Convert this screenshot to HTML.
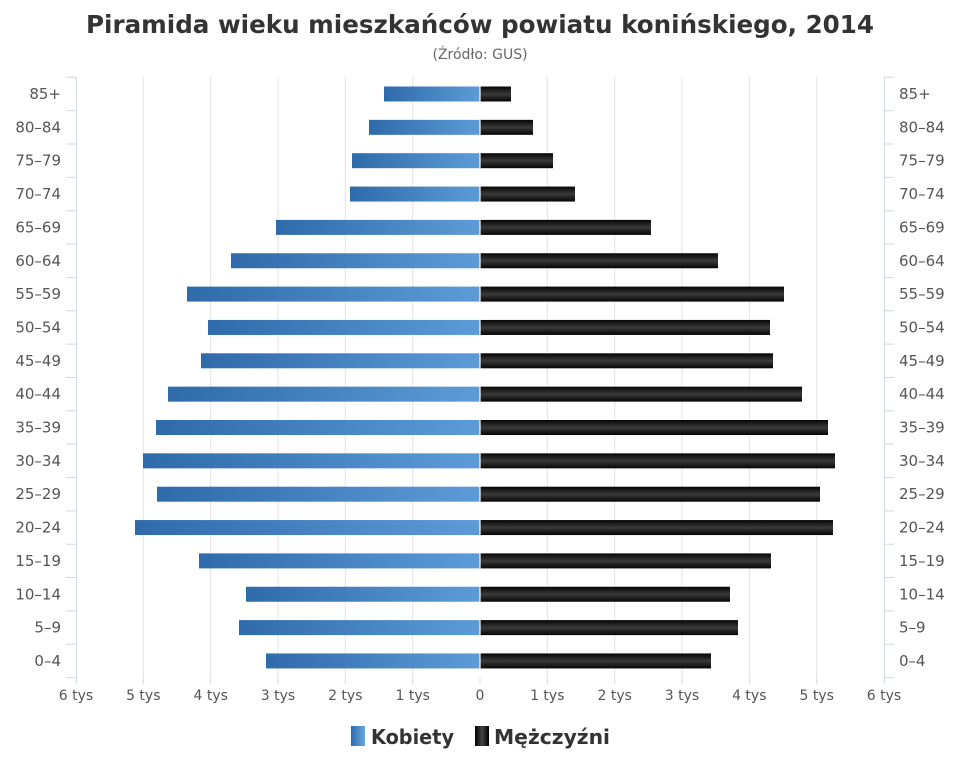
<!DOCTYPE html>
<html><head><meta charset="utf-8"><style>
html,body{margin:0;padding:0;background:#fff;}
svg{display:block;font-family:"DejaVu Sans","Liberation Sans",sans-serif;}
</style></head><body>
<svg width="960" height="768" viewBox="0 0 960 768" xmlns="http://www.w3.org/2000/svg">
<defs>
<linearGradient id="gb" x1="0" y1="0" x2="1" y2="0"><stop offset="0" stop-color="#2f6aaa"/><stop offset="1" stop-color="#5d9bd8"/></linearGradient>
<linearGradient id="gk" x1="0" y1="0" x2="0" y2="1"><stop offset="0" stop-color="#050505"/><stop offset="0.5" stop-color="#3a3a3a"/><stop offset="1" stop-color="#050505"/></linearGradient>
<linearGradient id="lb" x1="0" y1="0" x2="1" y2="0"><stop offset="0" stop-color="#2f6aaa"/><stop offset="1" stop-color="#6aa6e0"/></linearGradient>
<linearGradient id="lk" x1="0" y1="0" x2="1" y2="0"><stop offset="0" stop-color="#000"/><stop offset="0.5" stop-color="#444"/><stop offset="1" stop-color="#000"/></linearGradient>
</defs>
<text x="480" y="33" text-anchor="middle" font-size="25" font-weight="bold" fill="#333" textLength="788" lengthAdjust="spacingAndGlyphs">Piramida wieku mieszkańców powiatu konińskiego, 2014</text>
<text x="480" y="59" text-anchor="middle" font-size="14" fill="#666">(Źródło: GUS)</text>
<g stroke="#e3e3e3" stroke-width="1">
<line x1="143.3" y1="77" x2="143.3" y2="678"/><line x1="210.7" y1="77" x2="210.7" y2="678"/><line x1="278" y1="77" x2="278" y2="678"/><line x1="345.3" y1="77" x2="345.3" y2="678"/><line x1="412.7" y1="77" x2="412.7" y2="678"/><line x1="480" y1="77" x2="480" y2="678"/><line x1="547.3" y1="77" x2="547.3" y2="678"/><line x1="614.7" y1="77" x2="614.7" y2="678"/><line x1="682" y1="77" x2="682" y2="678"/><line x1="749.3" y1="77" x2="749.3" y2="678"/><line x1="816.7" y1="77" x2="816.7" y2="678"/>
</g>
<g stroke="#d0d8e0" stroke-width="1">
<line x1="76.5" y1="77" x2="76.5" y2="678"/><line x1="884.5" y1="77" x2="884.5" y2="678"/>
<path d="M66 77.3H76M66 110.65H76M66 144H76M66 177.35H76M66 210.7H76M66 244.05H76M66 277.4H76M66 310.75H76M66 344.1H76M66 377.45H76M66 410.8H76M66 444.15H76M66 477.5H76M66 510.85H76M66 544.2H76M66 577.55H76M66 610.9H76M66 644.25H76M66 677.6H76"/>
<path d="M884 77.3H894M884 110.65H894M884 144H894M884 177.35H894M884 210.7H894M884 244.05H894M884 277.4H894M884 310.75H894M884 344.1H894M884 377.45H894M884 410.8H894M884 444.15H894M884 477.5H894M884 510.85H894M884 544.2H894M884 577.55H894M884 610.9H894M884 644.25H894M884 677.6H894"/>
<path d="M76.5 678V684M143.3 678V684M210.7 678V684M278 678V684M345.3 678V684M412.7 678V684M480 678V684M547.3 678V684M614.7 678V684M682 678V684M749.3 678V684M816.7 678V684M884.5 678V684"/>
</g>
<g fill="url(#gb)">
<rect x="384" y="86.5" width="96" height="15"/><rect x="369" y="119.85" width="111" height="15"/><rect x="352" y="153.2" width="128" height="15"/><rect x="350" y="186.55" width="130" height="15"/><rect x="276" y="219.9" width="204" height="15"/><rect x="231" y="253.25" width="249" height="15"/><rect x="187" y="286.6" width="293" height="15"/><rect x="208" y="319.95" width="272" height="15"/><rect x="201" y="353.3" width="279" height="15"/><rect x="168" y="386.65" width="312" height="15"/><rect x="156" y="420" width="324" height="15"/><rect x="143" y="453.35" width="337" height="15"/><rect x="157" y="486.7" width="323" height="15"/><rect x="135" y="520.05" width="345" height="15"/><rect x="199" y="553.4" width="281" height="15"/><rect x="246" y="586.75" width="234" height="15"/><rect x="239" y="620.1" width="241" height="15"/><rect x="266" y="653.45" width="214" height="15"/>
</g>
<g fill="url(#gk)">
<rect x="480" y="86.5" width="31" height="15"/><rect x="480" y="119.85" width="53" height="15"/><rect x="480" y="153.2" width="73" height="15"/><rect x="480" y="186.55" width="95" height="15"/><rect x="480" y="219.9" width="171" height="15"/><rect x="480" y="253.25" width="238" height="15"/><rect x="480" y="286.6" width="304" height="15"/><rect x="480" y="319.95" width="290" height="15"/><rect x="480" y="353.3" width="293" height="15"/><rect x="480" y="386.65" width="322" height="15"/><rect x="480" y="420" width="348" height="15"/><rect x="480" y="453.35" width="355" height="15"/><rect x="480" y="486.7" width="340" height="15"/><rect x="480" y="520.05" width="353" height="15"/><rect x="480" y="553.4" width="291" height="15"/><rect x="480" y="586.75" width="250" height="15"/><rect x="480" y="620.1" width="258" height="15"/><rect x="480" y="653.45" width="231" height="15"/>
</g>
<line x1="480" y1="77" x2="480" y2="678" stroke="#fff" stroke-width="1.2"/>
<g font-size="15" fill="#555" text-anchor="end">
<text x="61" y="99">85+</text><text x="61" y="132.35">80–84</text><text x="61" y="165.7">75–79</text><text x="61" y="199.05">70–74</text><text x="61" y="232.4">65–69</text><text x="61" y="265.75">60–64</text><text x="61" y="299.1">55–59</text><text x="61" y="332.45">50–54</text><text x="61" y="365.8">45–49</text><text x="61" y="399.15">40–44</text><text x="61" y="432.5">35–39</text><text x="61" y="465.85">30–34</text><text x="61" y="499.2">25–29</text><text x="61" y="532.55">20–24</text><text x="61" y="565.9">15–19</text><text x="61" y="599.25">10–14</text><text x="61" y="632.6">5–9</text><text x="61" y="665.95">0–4</text>
</g>
<g font-size="15" fill="#555" text-anchor="start">
<text x="899" y="99">85+</text><text x="899" y="132.35">80–84</text><text x="899" y="165.7">75–79</text><text x="899" y="199.05">70–74</text><text x="899" y="232.4">65–69</text><text x="899" y="265.75">60–64</text><text x="899" y="299.1">55–59</text><text x="899" y="332.45">50–54</text><text x="899" y="365.8">45–49</text><text x="899" y="399.15">40–44</text><text x="899" y="432.5">35–39</text><text x="899" y="465.85">30–34</text><text x="899" y="499.2">25–29</text><text x="899" y="532.55">20–24</text><text x="899" y="565.9">15–19</text><text x="899" y="599.25">10–14</text><text x="899" y="632.6">5–9</text><text x="899" y="665.95">0–4</text>
</g>
<g font-size="14" fill="#555" text-anchor="middle">
<text x="76" y="700">6 tys</text><text x="143.3" y="700">5 tys</text><text x="210.7" y="700">4 tys</text><text x="278" y="700">3 tys</text><text x="345.3" y="700">2 tys</text><text x="412.7" y="700">1 tys</text><text x="480" y="700">0</text><text x="547.3" y="700">1 tys</text><text x="614.7" y="700">2 tys</text><text x="682" y="700">3 tys</text><text x="749.3" y="700">4 tys</text><text x="816.7" y="700">5 tys</text><text x="884" y="700">6 tys</text>
</g>
<rect x="351" y="726" width="14" height="20" fill="url(#lb)"/>
<text x="371" y="744" font-size="20" font-weight="bold" fill="#333" textLength="83" lengthAdjust="spacingAndGlyphs">Kobiety</text>
<rect x="475" y="726" width="14" height="20" fill="url(#lk)"/>
<text x="494" y="744" font-size="20" font-weight="bold" fill="#333" textLength="116" lengthAdjust="spacingAndGlyphs">Mężczyźni</text>
</svg>
</body></html>
